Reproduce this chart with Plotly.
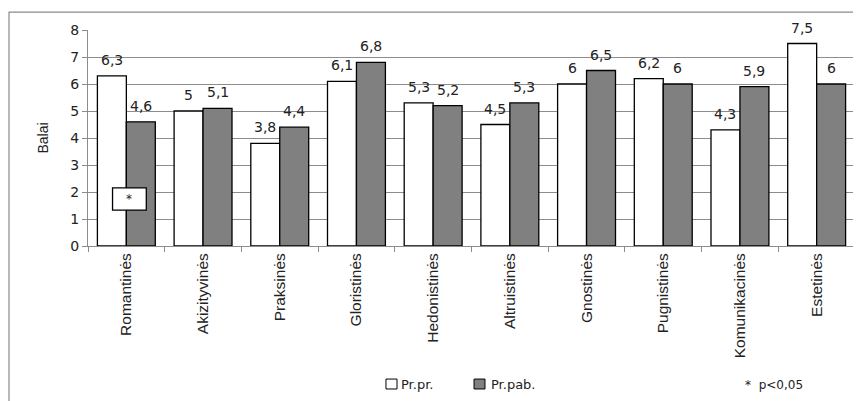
import plotly.graph_objects as go

# ---- data ----
categories = ["Romantinės", "Akizityvinės", "Praksinės", "Gloristinės", "Hedonistinės",
              "Altruistinės", "Gnostinės", "Pugnistinės", "Komunikacinės", "Estetinės"]
pr_pr = [6.3, 5.0, 3.8, 6.1, 5.3, 4.5, 6.0, 6.2, 4.3, 7.5]
pr_pab = [4.6, 5.1, 4.4, 6.8, 5.2, 5.3, 6.5, 6.0, 5.9, 6.0]
series_names = ["Pr.pr.", "Pr.pab."]
y_ticks = [0, 1, 2, 3, 4, 5, 6, 7, 8]

WHITE, GREY = "white", "#808080"
TXT = "#222"


def lt(v):
    # virgule décimale, pas de ",0"
    return f"{v:g}".replace(".", ",")


fig = go.Figure()
for vals, name, col, dx in [(pr_pr, series_names[0], WHITE, -14.5),
                            (pr_pab, series_names[1], GREY, 14.5)]:
    fig.add_trace(go.Bar(
        x=categories, y=vals, name=name, showlegend=False,
        marker=dict(color=col, line=dict(color="black", width=1.3)),
    ))
    # étiquettes de valeur, un peu décollées du haut des barres
    for c, v in zip(categories, vals):
        fig.add_annotation(x=c, y=v, xref="x", yref="y", text=lt(v), showarrow=False,
                           xshift=dx, yshift=6, yanchor="bottom",
                           font=dict(family="DejaVu Sans", size=14, color=TXT))

# boîte de significativité sur la 1re catégorie
fig.add_shape(type="rect", xref="x", yref="y", x0=-0.18, x1=0.26, y0=1.33, y1=2.15,
              fillcolor="white", line=dict(color="black", width=1.3), layer="above")
fig.add_annotation(x=0.04, y=1.74, xref="x", yref="y", text="*", showarrow=False,
                   font=dict(family="DejaVu Sans", size=12, color=TXT))

# légende dessinée à la main (petits carrés comme dans l'original)
for (x0, x1, tx), name, col in zip([(0.3885, 0.4029, 0.4055), (0.5033, 0.5176, 0.5228)],
                                   series_names, [WHITE, GREY]):
    fig.add_shape(type="rect", xref="paper", yref="paper", x0=x0, x1=x1, y0=-0.616, y1=-0.662,
                  fillcolor=col, line=dict(color="black", width=1))
    fig.add_annotation(x=tx, y=-0.639, xref="paper", yref="paper", text=name,
                       xanchor="left", yanchor="middle", showarrow=False,
                       font=dict(family="DejaVu Sans", size=13, color=TXT))
fig.add_annotation(x=0.854, y=-0.644, xref="paper", yref="paper", text="*  p<0,05",
                   xanchor="left", yanchor="middle", showarrow=False,
                   font=dict(family="DejaVu Sans", size=12, color=TXT))

# cadre extérieur du graphique
fig.add_shape(type="rect", xref="paper", yref="paper", x0=-0.103, x1=1.2, y0=1.083, y1=-1.5,
              line=dict(color="#8c8c8c", width=1.2), fillcolor="rgba(0,0,0,0)")

fig.update_layout(
    width=853, height=393,
    margin=dict(l=80, r=6, t=22, b=155),
    paper_bgcolor="white", plot_bgcolor="white",
    barmode="group", bargap=0.245, bargroupgap=0,
    font=dict(family="DejaVu Sans", size=12, color=TXT),
    showlegend=False,
    xaxis=dict(
        type="category", tickangle=-90, tickson="boundaries",
        ticks="outside", ticklen=5, tickcolor="#8c8c8c",
        showline=True, linecolor="#8c8c8c", linewidth=1,
        tickfont=dict(family="Liberation Sans", size=15.5, color=TXT),
        showgrid=False,
    ),
    yaxis=dict(
        range=[0, 8], tickvals=y_ticks, ticks="outside", ticklen=5, tickcolor="#8c8c8c",
        showline=True, linecolor="#8c8c8c", linewidth=1,
        showgrid=True, gridcolor="#8c8c8c", gridwidth=1,
        zeroline=False,
        tickfont=dict(family="DejaVu Sans", size=14, color=TXT),
        title=dict(text="Balai", standoff=18,
                   font=dict(family="Liberation Sans", size=14, color=TXT)),
    ),
)

fig.write_html("out.html")
